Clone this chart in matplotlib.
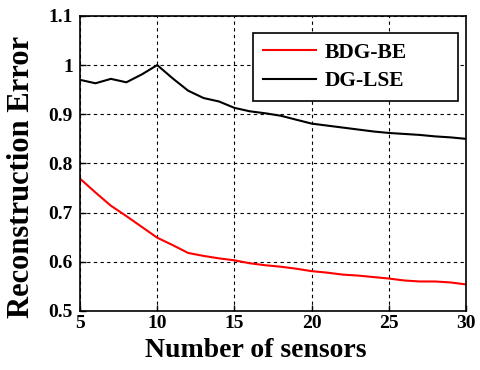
import numpy as np
import matplotlib.pyplot as plt

# data
n_sensors = np.arange(5, 31)
bdg_be = [0.769, 0.741, 0.714, 0.693, 0.671, 0.649, 0.634, 0.618, 0.612, 0.607,
          0.603, 0.597, 0.593, 0.590, 0.586, 0.581, 0.578, 0.574, 0.572, 0.569,
          0.566, 0.562, 0.560, 0.560, 0.558, 0.554]
dg_lse = [0.970, 0.963, 0.972, 0.965, 0.981, 1.000, 0.973, 0.948, 0.933, 0.926,
          0.913, 0.906, 0.902, 0.897, 0.889, 0.881, 0.877, 0.873, 0.869, 0.865,
          0.862, 0.860, 0.858, 0.855, 0.853, 0.850]

plt.rcParams['font.family'] = 'Liberation Serif'
plt.rcParams['font.weight'] = 'bold'

fig = plt.figure(figsize=(4.8, 3.7), dpi=100)
ax = fig.add_axes([0.1667, 0.1595, 0.8043, 0.7975])

ax.plot(n_sensors, bdg_be, color='red', linewidth=1.5, label='BDG-BE')
ax.plot(n_sensors, dg_lse, color='black', linewidth=1.5, label='DG-LSE')

ax.set_xlim(5, 30)
ax.set_ylim(0.5, 1.1)
ax.set_xticks([5, 10, 15, 20, 25, 30])
ax.set_yticks([0.5, 0.6, 0.7, 0.8, 0.9, 1.0, 1.1])
ax.set_yticklabels(['0.5', '0.6', '0.7', '0.8', '0.9', '1', '1.1'])
ax.tick_params(direction='in', labelsize=14, width=1, length=4)
ax.tick_params(axis='x', pad=3)
ax.tick_params(axis='y', pad=5)
for lab in ax.get_xticklabels() + ax.get_yticklabels():
    lab.set_fontweight('bold')
ax.grid(True, color='black', linestyle=(0, (3, 3)), linewidth=0.8)
for s in ax.spines.values():
    s.set_linewidth(1.2)

ax.set_xlabel('Number of sensors', fontsize=20, fontweight='bold')
ax.set_ylabel('Reconstruction Error', fontsize=22, fontweight='bold')
ax.xaxis.set_label_coords(0.456, -0.092)
ax.yaxis.set_label_coords(-0.115, 0.454)

# wide matlab-like legend box
leg = ax.legend(loc='upper left', bbox_to_anchor=(0.448, 0.5, 0.531, 0.442),
                mode='expand', fontsize=15.5,
                fancybox=False, framealpha=1, edgecolor='black',
                handlelength=2.5, handletextpad=0.4, borderpad=0.45,
                labelspacing=0.4, borderaxespad=0)
leg.get_frame().set_linewidth(1.2)
for t in leg.get_texts():
    t.set_fontweight('bold')

plt.savefig('out.png', dpi=100)
